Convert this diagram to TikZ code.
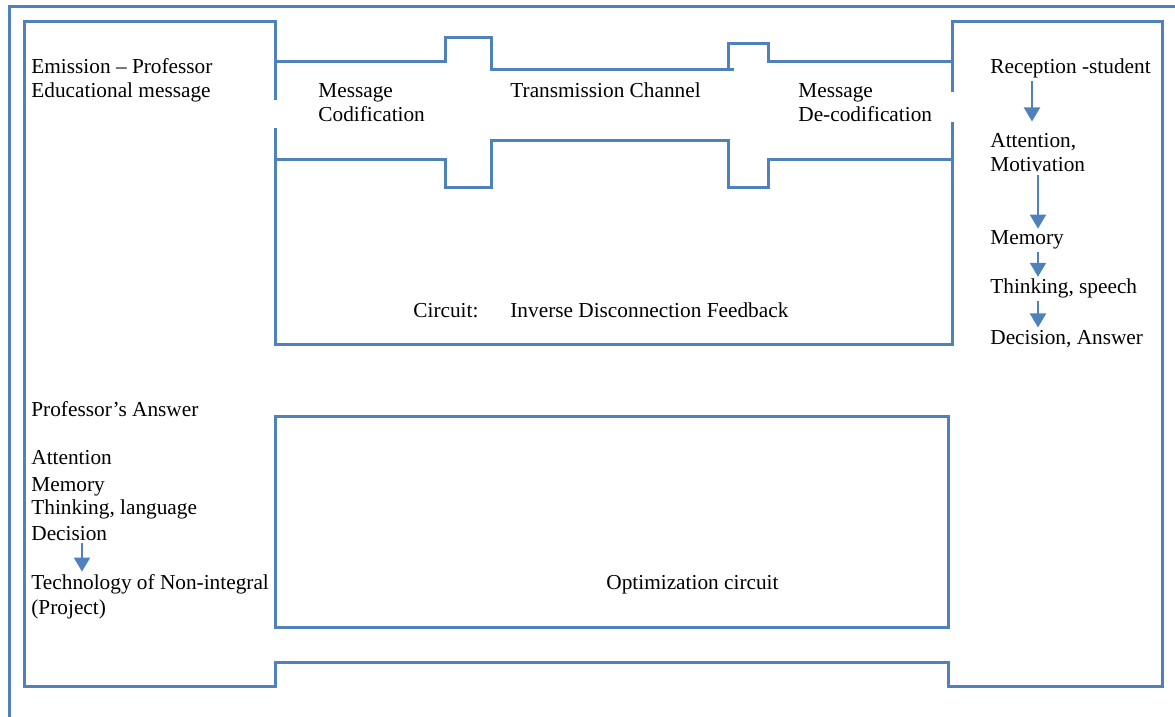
\documentclass[tikz,border=0pt]{standalone}
\usepackage{fontspec}
\setmainfont{Liberation Serif}
\usetikzlibrary{arrows.meta}
\definecolor{lineblue}{RGB}{79,129,189}

\begin{document}
\begin{tikzpicture}[
  x=0.5pt, y=-0.5pt,
  wire/.style={draw=lineblue, line width=1.5pt},
  flow/.style={draw=lineblue, line width=1pt, -{Triangle[width=8pt,length=7pt]}},
  lbl/.style={anchor=base west, inner xsep=0pt, inner ysep=1pt, font=\fontsize{10.65}{12.5}\selectfont}
]
\useasboundingbox (0,0) rectangle (1175,717);
% outer frame
\draw[wire] (1175,7) -- (9,7) -- (9,717);
% emission, reception and the way back
\draw[wire] (275,100) -- (275,22) -- (24,22) -- (24,686) -- (275,686) -- (275,662)
  -- (948,662) -- (948,686) -- (1162,686) -- (1162,22) -- (952,22) -- (952,92);
\draw[wire] (275,128) -- (275,345) -- (952,345) -- (952,122);
% channel
\draw[wire] (275,62) -- (445,62) -- (445,38) -- (491,38) -- (491,70) -- (734,70);
\draw[wire] (728,70) -- (728,44) -- (768,44) -- (768,62) -- (952,62);
\draw[wire] (275,160) -- (445,160) -- (445,188) -- (491,188) -- (491,141) -- (728,141)
  -- (728,188) -- (768,188) -- (768,160) -- (952,160);
% optimization circuit
\draw[wire] (275,417) rectangle (948,627);

% texts
\foreach \n/\x/\y/\t in {emi1/31/74/{Emission – Professor}, emi2/31/98/{Educational message},
  cod1/318/98/Message, cod2/318/122/Codification, chan/510/98/{Transmission Channel},
  dec1/798/98/Message, dec2/798/122/De-codification,
  rec/990/74/{Reception -student}, att1/990/148/{Attention,}, att2/990/172/Motivation,
  mem/990/245/Memory, thk/990/294/{Thinking, speech}, ans/990/344/{Decision, Answer},
  circ/413/318/{Circuit:}, invf/510/318/{Inverse Disconnection Feedback},
  pans/31/416/{Professor’s Answer}, patt/31/465/Attention, pmem/31/491/Memory,
  pthk/31/515/{Thinking, language}, pdec/31/540/Decision,
  tech1/31/589/{Technology of Non-integral}, tech2/31/614/(Project),
  opt/606/589/{Optimization circuit}}
  \node[lbl] (\n) at (\x,\y) {\t};

% arrows
\draw[flow, shorten >=5pt] (rec.south -| 1032,0) -- (att1.north -| 1032,0);
\foreach \a/\b in {att2/mem, mem/thk, thk/ans}
  \draw[flow] (\a.south -| 1038,0) -- (\b.north -| 1038,0);
\draw[flow] (pdec.south -| 82,0) -- (tech1.north -| 82,0);
\end{tikzpicture}
\end{document}
